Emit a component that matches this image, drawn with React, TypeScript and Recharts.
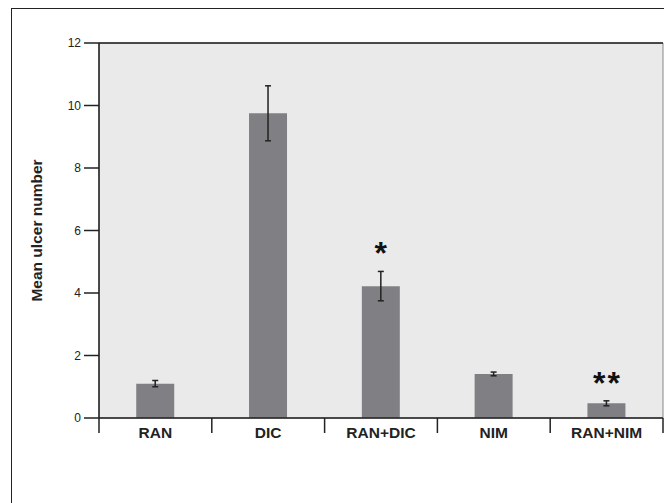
import React from 'react';
import {
  BarChart,
  Bar,
  XAxis,
  YAxis,
  ErrorBar,
  LabelList,
  ReferenceArea,
  ReferenceLine,
} from 'recharts';

const groups = ['RAN', 'DIC', 'RAN+DIC', 'NIM', 'RAN+NIM'];
const means = [1.1, 9.75, 4.22, 1.41, 0.47];
const errors = [0.1, 0.88, 0.47, 0.06, 0.08];
const marks = ['', '', '*', '', '**'];
const yTicks = [0, 2, 4, 6, 8, 10, 12];

const data = groups.map((name, i) => ({ name, mean: means[i], err: errors[i], sig: marks[i] }));

const W = 664;
const H = 503;
const M = { top: 43, right: 1, bottom: 55, left: 0 };
const Y_W = 99;
const FONT = '"Liberation Sans", Arial, Helvetica, sans-serif';
const INK = '#222';

const BAND = (W - M.left - M.right - Y_W) / groups.length;

function GroupTick(props: any) {
  const { x, y, payload, index } = props;
  const half = payload && payload.offset ? payload.offset : BAND / 2;
  return (
    <g>
      <line x1={x - half} x2={x - half} y1={y} y2={y + 15} stroke={INK} strokeWidth={1.5} />
      {index === groups.length - 1 && (
        <line x1={x + half} x2={x + half} y1={y} y2={y + 15} stroke={INK} strokeWidth={1.5} />
      )}
      <text x={x} y={y + 20} textAnchor="middle" fontFamily={FONT} fontWeight="bold" fontSize={15.5} fill={INK}>
        {payload.value}
      </text>
    </g>
  );
}

function Stars(props: any) {
  const { x, y, width, height, value, index } = props;
  if (!value) return null;
  const ppu = height / means[index];
  const top = y - errors[index] * ppu;
  const gap = value.length > 1 ? 2 : 0;
  return (
    <text
      x={x + width / 2 + gap / 2}
      y={top - 7}
      textAnchor="middle"
      letterSpacing={gap}
      fontFamily={FONT}
      fontWeight="bold"
      fontSize={32}
      fill="#111"
    >
      {value}
    </text>
  );
}

function YTitle(props: any) {
  const vb = props.viewBox || { x: 0, y: M.top, width: Y_W, height: 375 };
  const cx = vb.x + 36;
  const cy = vb.y + vb.height / 2;
  return (
    <text
      x={cx}
      y={cy}
      transform={`rotate(-90, ${cx}, ${cy})`}
      textAnchor="middle"
      dominantBaseline="central"
      fontFamily={FONT}
      fontWeight="bold"
      fontSize={15.5}
      fill={INK}
    >
      Mean ulcer number
    </text>
  );
}

export default function App() {
  return (
    <div style={{ position: 'absolute', left: 0, top: 0, width: W, height: H, overflow: 'hidden', background: '#fff' }}>
      <div
        style={{
          position: 'absolute',
          left: 11,
          top: 8,
          width: 720,
          height: 620,
          border: `1.5px solid ${INK}`,
          boxSizing: 'border-box',
        }}
      />
      <div style={{ position: 'absolute', left: 0, top: 0 }}>
        <BarChart width={W} height={H} data={data} margin={M} barCategoryGap="33%">
          <ReferenceArea y1={0} y2={12} fill="#eaeaea" fillOpacity={1} stroke="#888" strokeWidth={1} ifOverflow="visible" />
          <XAxis
            dataKey="name"
            height={30}
            tickLine={false}
            tickSize={0}
            tickMargin={0}
            axisLine={{ stroke: INK, strokeWidth: 1.5 }}
            tick={<GroupTick />}
            interval={0}
          />
          <YAxis
            width={Y_W}
            domain={[0, 12]}
            ticks={yTicks}
            tickSize={15}
            tickMargin={3}
            tickLine={{ stroke: INK, strokeWidth: 1.5 }}
            axisLine={{ stroke: INK, strokeWidth: 1.5 }}
            tick={{ fill: INK, fontSize: 12, fontFamily: FONT }}
            label={<YTitle />}
          />
          <ReferenceLine y={12} stroke={INK} strokeWidth={1.5} />
          <Bar dataKey="mean" fill="#808084" isAnimationActive={false}>
            <ErrorBar dataKey="err" width={3} stroke={INK} strokeWidth={1.5} />
            <LabelList dataKey="sig" content={<Stars />} />
          </Bar>
        </BarChart>
      </div>
    </div>
  );
}
